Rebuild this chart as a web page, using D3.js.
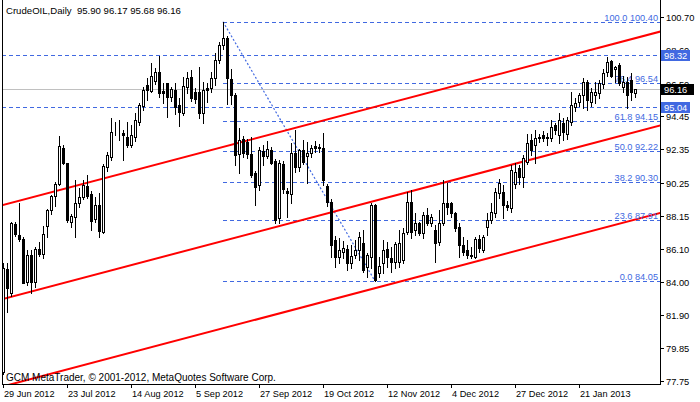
<!DOCTYPE html>
<html><head><meta charset="utf-8">
<script src="https://cdn.jsdelivr.net/npm/d3@7"></script>
<style>html,body{margin:0;padding:0;background:#fff;}svg{display:block;}</style>
</head><body>
<svg id="chart" width="700" height="402"></svg>
<script>
// ---------- data ----------
const title = "CrudeOIL,Daily  95.90 96.17 95.68 96.16";
const copyright = "GCM MetaTrader, \u00A9 2001-2012, MetaQuotes Software Corp.";
const dateLabels = ["29 Jun 2012","23 Jul 2012","14 Aug 2012","5 Sep 2012","27 Sep 2012","19 Oct 2012","12 Nov 2012","4 Dec 2012","27 Dec 2012","21 Jan 2013"];
const dateLabelBars = [0,16,32,48,64,80,96,112,128,144];
const priceTicks = [100.70,98.60,96.50,94.45,92.35,90.25,88.15,86.10,84.00,81.90,79.85,77.75];

const opens = [78.3,84.8,83.3,87.65,86.95,86.68,84.0,85.7,84.0,86.05,85.76,87.5,88.5,89.4,90.2,92.46,91.47,87.8,88.1,88.95,
89.37,90.07,89.54,87.94,88.85,87.16,91.26,91.89,93.36,93.41,93.36,93.15,92.63,93.15,94.1,95.09,96.41,96.06,96.69,97.23,
96.06,96.52,95.63,96.10,95.15,94.67,96.31,96.90,95.99,95.99,94.63,96.20,96.20,96.83,97.99,98.93,99.36,96.77,95.78,92.06,
92.99,92.84,92.06,90.84,90.11,92.27,91.96,92.31,91.62,88.01,91.41,89.7,89.52,92.15,91.22,92.31,91.96,92.15,92.57,92.42,
92.46,90.04,89.06,86.64,85.59,85.90,86.05,85.21,85.69,86.01,86.43,84.96,85.59,88.85,84.54,85.17,86.05,85.48,85.27,85.27,
85.38,87.17,89.06,87.27,87.69,87.06,88.22,87.69,87.27,86.53,87.69,88.95,88.95,88.32,87.48,86.32,86.01,85.69,85.59,86.68,
86.01,87.48,87.90,88.32,89.58,89.69,88.85,88.64,90.2,91.16,90.63,91.58,92.94,92.63,93.05,93.26,93.15,93.05,93.89,93.26,
94.0,93.3,94.10,95.05,95.36,95.78,96.62,95.36,95.78,95.89,96.45,97.25,97.95,97.4,97.67,96.3,96.62,96.73,95.90];
const highs = [85.2,85.2,87.8,87.8,88.95,86.8,86.0,86.0,86.2,86.5,87.5,88.6,89.5,90.3,93.2,92.6,91.5,88.3,90.4,89.9,
90.4,90.74,89.7,89.37,89.58,91.4,92.2,94.31,94.1,94.21,93.58,94.1,93.89,94.63,95.3,96.31,96.83,97.78,97.46,98.26,
96.52,96.56,96.3,96.52,95.57,96.90,97.25,97.36,96.2,97.57,96.62,96.52,97.25,98.41,99.1,100.40,99.5,97.4,95.9,93.68,
93.2,93.0,93.15,91.0,92.5,92.63,92.9,92.5,91.73,91.68,91.6,89.9,92.78,93.57,92.4,92.94,92.84,92.6,92.9,92.7,
93.36,90.2,89.2,86.9,86.74,86.6,86.32,86.32,86.64,87.17,87.27,85.80,88.95,88.9,85.59,86.64,86.53,86.22,86.53,87.27,
87.40,89.69,89.79,88.32,87.80,88.43,88.64,88.3,87.59,88.53,90.42,90.21,89.06,88.43,87.69,86.85,86.64,86.22,86.85,86.95,
86.95,88.32,88.95,89.9,90.5,90.1,89.1,91.37,91.47,91.37,92.0,93.3,93.3,93.58,93.3,93.5,93.4,94.21,94.0,94.63,
94.3,94.4,95.99,95.6,95.9,96.83,96.73,96.2,96.62,96.73,97.4,98.2,98.0,97.6,97.8,97.0,96.9,97.15,96.17];
const lows = [78.2,82.1,83.1,86.9,86.6,83.9,83.8,83.3,83.7,85.6,85.5,86.8,88.3,88.8,90.1,91.4,87.8,87.45,86.85,88.7,
89.2,89.27,87.27,87.8,86.85,87.1,91.0,91.68,93.26,92.94,91.68,92.52,92.52,92.9,93.9,94.84,95.47,95.99,96.5,95.68,
95.26,94.37,95.4,94.58,93.85,94.5,95.89,95.4,95.3,94.31,94.0,95.36,95.99,96.41,97.8,98.7,95.21,95.21,91.37,90.88,
91.9,91.8,90.6,88.85,89.79,91.37,91.8,91.4,87.73,87.69,89.6,88.1,88.95,90.95,91.0,91.4,90.21,91.9,92.2,92.2,
90.11,88.78,85.59,84.96,85.17,85.5,84.75,84.85,85.48,85.38,84.64,84.33,84.85,84.05,84.33,84.54,84.96,84.64,84.85,84.96,
85.17,87.0,86.74,86.95,86.95,86.74,87.59,87.5,85.27,86.32,87.59,88.3,88.11,87.2,85.59,85.69,85.48,85.48,85.48,85.90,
85.90,86.95,87.69,88.1,89.3,88.01,88.5,88.4,89.9,90.2,90.0,91.4,92.0,91.47,92.8,92.9,92.6,92.9,93.3,92.73,
92.94,93.0,93.9,94.8,95.1,94.94,94.84,95.1,95.26,95.6,96.2,97.0,96.9,96.6,96.4,96.0,94.94,95.47,95.68];
const closes = [84.9,83.6,87.7,87.0,86.7,83.95,85.7,84.0,86.1,85.75,87.0,88.5,89.4,90.2,92.57,91.5,87.9,88.15,88.95,89.37,
90.11,89.41,87.86,88.85,87.23,91.31,92.0,93.43,93.41,93.38,93.26,92.63,93.26,94.21,95.15,96.10,96.10,96.98,97.23,95.93,
95.93,95.63,96.14,95.05,94.73,96.35,96.83,95.57,95.51,94.67,96.1,96.10,96.83,97.99,98.93,99.36,96.83,95.78,92.0,92.94,
92.10,92.06,90.74,90.0,92.31,91.94,92.36,91.52,87.90,91.47,89.83,89.62,92.15,91.22,92.31,91.58,92.15,92.42,92.42,92.48,
90.42,89.06,86.32,85.59,86.01,86.11,85.21,85.63,86.01,86.85,84.75,85.69,88.85,84.12,85.0,86.01,85.55,85.27,86.38,86.43,
87.06,89.06,87.17,87.69,87.06,88.22,87.69,88.11,86.47,87.69,88.95,88.74,88.32,87.38,86.32,85.90,85.69,85.63,86.68,86.11,
86.85,87.90,88.43,89.69,90.21,88.85,88.7,91.05,90.95,90.63,91.79,92.73,92.31,93.05,93.15,93.05,93.05,93.79,93.58,94.21,
93.45,94.21,95.15,95.26,95.78,96.62,95.47,95.99,95.99,96.52,97.15,97.88,97.0,97.57,96.52,96.62,95.8,95.99,96.16];

// channel lines: [bar index, price] anchor pairs
const channelTop = [[0, 88.85],[158, 99.36]];
const channelMid = [[0, 82.92],[158, 93.44]];
const channelBot = [[0, 77.41],[158, 87.93]];
// fibonacci retracement anchors
const fibHighBar = 55, fibHighPrice = 100.40;
const fibLowBar = 93, fibLowPrice = 84.05;
const fibLevels = [0, 23.6, 38.2, 50, 61.8, 76.4, 100];
const hLines = [98.32, 95.04];
const bidPrice = 96.16;

// ---------- layout ----------
const L = 2, R = 660, T = 0, B = 384;
const svg = d3.select("#chart");
const font = "'Liberation Sans', Arial, sans-serif";
const blue = "#4169E1";

const x = d3.scaleLinear().domain([0, 158]).range([3, 635]);
const y = d3.scaleLinear().domain([77.56, 101.77]).range([B, T]);

svg.append("defs").append("clipPath").attr("id","plot")
  .append("rect").attr("x",L).attr("y",T).attr("width",R-L).attr("height",B-T);

const plot = svg.append("g").attr("clip-path","url(#plot)");

// bid line
plot.append("line").attr("x1",L).attr("x2",R)
  .attr("y1",Math.round(y(bidPrice))+0.5).attr("y2",Math.round(y(bidPrice))+0.5)
  .attr("stroke","#c0c0c0").attr("stroke-width",1);

// horizontal lines
plot.selectAll(".hl").data(hLines).enter().append("line")
  .attr("x1",L).attr("x2",R)
  .attr("y1",d=>Math.round(y(d))+0.5).attr("y2",d=>Math.round(y(d))+0.5)
  .attr("stroke",blue).attr("stroke-width",1).attr("stroke-dasharray","4,3");

// fib lines
const fibRange = fibHighPrice - fibLowPrice;
const fibData = fibLevels.map(l => ({lvl:l, price: fibLowPrice + fibRange*l/100}));
plot.selectAll(".fib").data(fibData).enter().append("line")
  .attr("x1",x(fibHighBar)).attr("x2",R)
  .attr("y1",d=>Math.round(y(d.price))+0.5).attr("y2",d=>Math.round(y(d.price))+0.5)
  .attr("stroke",blue).attr("stroke-width",1).attr("stroke-dasharray","4,3");

// fib trend (dotted)
plot.append("line")
  .attr("x1",x(fibHighBar)).attr("y1",y(fibHighPrice))
  .attr("x2",x(fibLowBar)).attr("y2",y(fibLowPrice))
  .attr("stroke",blue).attr("stroke-width",1.2).attr("stroke-dasharray","2,2");

// channel lines
function chan(pts){
  const [a,b] = pts;
  const k = (b[1]-a[1])/(b[0]-a[0]);
  const i0 = x.invert(L-2), i1 = x.invert(R+2);
  return [[x(i0), y(a[1]+k*(i0-a[0]))],[x(i1), y(a[1]+k*(i1-a[0]))]];
}
[channelTop, channelMid, channelBot].forEach(c => {
  const p = chan(c);
  plot.append("line").attr("x1",p[0][0]).attr("y1",p[0][1]).attr("x2",p[1][0]).attr("y2",p[1][1])
    .attr("stroke","#ff0000").attr("stroke-width",2);
});

// fib labels
plot.selectAll(".fibt").data(fibData).enter().append("text")
  .attr("x",658).attr("y",d=>Math.round(y(d.price))-1.5)
  .attr("text-anchor","end").attr("font-family",font).attr("font-size","9.2px")
  .attr("fill",blue)
  .text(d=>d.lvl.toFixed(1)+" "+d.price.toFixed(2));

// candles
const bars = opens.map((o,i)=>({i, o, h:highs[i], l:lows[i], c:closes[i]}));
const cg = plot.append("g");
bars.forEach(d=>{
  const cx = Math.round(x(d.i));
  cg.append("line").attr("x1",cx+0.5).attr("x2",cx+0.5)
    .attr("y1",Math.round(y(d.h))).attr("y2",Math.round(y(d.l))+1)
    .attr("stroke","#000").attr("stroke-width",1);
  const top = Math.round(y(Math.max(d.o,d.c)));
  const bot = Math.round(y(Math.min(d.o,d.c)));
  cg.append("rect").attr("x",cx-0.5).attr("y",top+0.5)
    .attr("width",2).attr("height",Math.max(0,bot-top))
    .attr("fill", d.c>=d.o ? "#fff" : "#000")
    .attr("stroke","#000").attr("stroke-width",1);
});

// title & copyright
svg.append("text").attr("x",6).attr("y",14).attr("font-family",font).attr("font-size","9.6px")
  .attr("fill","#000").style("white-space","pre").text(title);
svg.append("text").attr("x",6).attr("y",381).attr("font-family",font).attr("font-size","10px")
  .attr("fill","#000").text(copyright);

// frame
svg.append("line").attr("x1",L+0.5).attr("x2",L+0.5).attr("y1",0).attr("y2",B+1).attr("stroke","#000");
svg.append("line").attr("x1",R+0.5).attr("x2",R+0.5).attr("y1",0).attr("y2",B+1).attr("stroke","#000");
svg.append("line").attr("x1",L).attr("x2",R+1).attr("y1",B+0.5).attr("y2",B+0.5).attr("stroke","#000");

// y axis ticks
const ya = svg.append("g");
priceTicks.forEach(p=>{
  const yy = Math.round(y(p));
  ya.append("line").attr("x1",R+1).attr("x2",R+4).attr("y1",yy+0.5).attr("y2",yy+0.5).attr("stroke","#000");
  ya.append("text").attr("x",666).attr("y",yy+4).attr("font-family",font).attr("font-size","9.3px")
    .attr("fill","#000").text(p.toFixed(2));
});
// price boxes
function box(p, fill){
  const yy = Math.round(y(p));
  ya.append("rect").attr("x",661).attr("y",yy-5).attr("width",fill==="#000"?33:29).attr("height",11).attr("fill",fill);
  ya.append("text").attr("x",664).attr("y",yy+4).attr("font-family",font).attr("font-size","9.3px")
    .attr("fill","#fff").text(p.toFixed(2));
}
hLines.forEach(p=>box(p, blue));
box(bidPrice, "#000");

// x axis
const xa = svg.append("g");
dateLabelBars.forEach((b,k)=>{
  const xx = Math.round(x(b));
  xa.append("line").attr("x1",xx+0.5).attr("x2",xx+0.5).attr("y1",B+1).attr("y2",B+4).attr("stroke","#000");
  xa.append("text").attr("x",xx+1).attr("y",397).attr("font-family",font).attr("font-size","9.2px")
    .attr("fill","#000").text(dateLabels[k]);
});
</script>
</body></html>
